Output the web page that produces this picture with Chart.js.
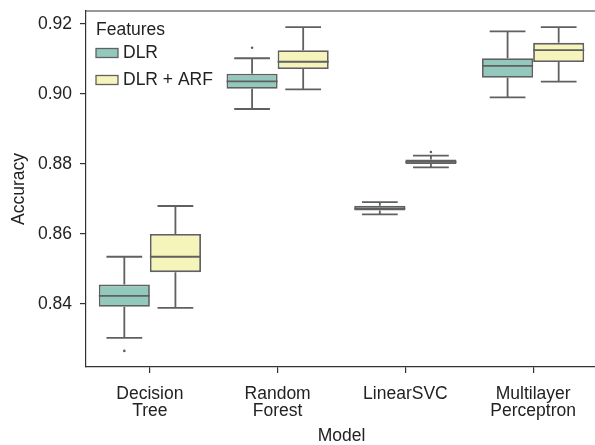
<!DOCTYPE html>
<html lang="en">
<head>
<meta charset="UTF-8">
<title>Accuracy by Model</title>
<script src="https://cdn.jsdelivr.net/npm/chart.js"></script>
<style>
    html, body { margin: 0; padding: 0; background: #fff; overflow: hidden; }
    .chart-container { width: 597px; height: 445px; }
</style>
</head>
<body>
<div class="chart-container">
    <!-- slightly wider than the window so the right spine falls just outside, as in the original -->
    <canvas id="myChart" width="597" height="445"></canvas>
</div>
<script>
    // categories and series
    const models = [['Decision', 'Tree'], ['Random', 'Forest'], 'LinearSVC', ['Multilayer', 'Perceptron']];
    const features = ['DLR', 'DLR + ARF'];
    // [min whisker, q1, median, q3, max whisker] for each model
    const dlrStats = [
        [0.8303, 0.8392, 0.8423, 0.8456, 0.8535],
        [0.8957, 0.9015, 0.9036, 0.9058, 0.9102],
        [0.8656, 0.8667, 0.8673, 0.8681, 0.8691],
        [0.8990, 0.9046, 0.9080, 0.9102, 0.9179]
    ];
    const arfStats = [
        [0.8389, 0.8491, 0.8535, 0.8600, 0.8680],
        [0.9013, 0.9071, 0.9092, 0.9125, 0.9191],
        [0.8790, 0.8800, 0.8806, 0.8813, 0.8824],
        [0.9035, 0.9091, 0.9125, 0.9146, 0.9191]
    ];
    const dlrOutliers = [[0.8266], [0.9132], [], []];
    const arfOutliers = [[], [], [0.8834], []];
    const yTicks = [0.84, 0.86, 0.88, 0.90, 0.92];

    const fillColors = ['#93c9bd', '#f5f4bb'];
    const lineColor = '#606060';
    const axisColor = '#333333';
    const fontFamily = '"Liberation Sans", Arial, sans-serif';
    const fontSize = 17.5;

    Chart.defaults.font.family = fontFamily;
    Chart.defaults.font.size = fontSize;
    Chart.defaults.color = '#222';

    // whiskers, caps, medians and fliers on top of the floating bars
    const boxWhiskers = {
        id: 'boxWhiskers',
        afterDatasetsDraw(chart) {
            const ctx = chart.ctx;
            const y = chart.scales.y;
            ctx.save();
            ctx.strokeStyle = lineColor;
            ctx.fillStyle = lineColor;
            ctx.lineWidth = 1.8;
            chart.data.datasets.forEach((ds, di) => {
                const meta = chart.getDatasetMeta(di);
                meta.data.forEach((bar, i) => {
                    const [lo, q1, med, q3, hi] = ds.stats[i];
                    const x = bar.x;
                    const half = bar.width / 2;
                    const cap = bar.width * 0.35;
                    ctx.beginPath();
                    ctx.moveTo(x, y.getPixelForValue(q3));
                    ctx.lineTo(x, y.getPixelForValue(hi));
                    ctx.moveTo(x, y.getPixelForValue(q1));
                    ctx.lineTo(x, y.getPixelForValue(lo));
                    ctx.moveTo(x - cap, y.getPixelForValue(hi));
                    ctx.lineTo(x + cap, y.getPixelForValue(hi));
                    ctx.moveTo(x - cap, y.getPixelForValue(lo));
                    ctx.lineTo(x + cap, y.getPixelForValue(lo));
                    ctx.moveTo(x - half, y.getPixelForValue(med));
                    ctx.lineTo(x + half, y.getPixelForValue(med));
                    ctx.stroke();
                    ds.outliers[i].forEach(v => {
                        ctx.beginPath();
                        ctx.arc(x, y.getPixelForValue(v), 1.3, 0, Math.PI * 2);
                        ctx.fill();
                    });
                });
            });
            ctx.restore();
        }
    };

    // top and right spines plus the legend box in the upper left
    const frameAndLegend = {
        id: 'frameAndLegend',
        afterDraw(chart) {
            const ctx = chart.ctx;
            const a = chart.chartArea;
            ctx.save();
            ctx.strokeStyle = axisColor;
            ctx.lineWidth = 1.2;
            ctx.beginPath();
            ctx.moveTo(a.left, a.top);
            ctx.lineTo(a.right, a.top);
            ctx.lineTo(a.right, a.bottom);
            ctx.stroke();

            ctx.font = fontSize + 'px ' + fontFamily;
            ctx.fillStyle = '#222';
            ctx.textBaseline = 'middle';
            ctx.textAlign = 'left';
            const lx = a.left + 10;
            ctx.fillText('Features', lx, a.top + 19);
            chart.data.datasets.forEach((ds, i) => {
                const cy = a.top + 42 + i * 27;
                ctx.fillStyle = ds.backgroundColor;
                ctx.fillRect(lx, cy - 4.5, 22, 9);
                ctx.strokeStyle = lineColor;
                ctx.lineWidth = 1.3;
                ctx.strokeRect(lx, cy - 4.5, 22, 9);
                ctx.fillStyle = '#222';
                ctx.fillText(ds.label, lx + 27, cy);
            });
            ctx.restore();
        }
    };

    const ctx = document.getElementById('myChart').getContext('2d');
    new Chart(ctx, {
        type: 'bar',
        data: {
            labels: models,
            datasets: [
                {
                    label: features[0],
                    data: dlrStats.map(s => [s[1], s[3]]),
                    stats: dlrStats,
                    outliers: dlrOutliers,
                    backgroundColor: fillColors[0],
                    borderColor: lineColor,
                    borderWidth: 1.8,
                    borderSkipped: false,
                    categoryPercentage: 0.8,
                    barPercentage: 1.0
                },
                {
                    label: features[1],
                    data: arfStats.map(s => [s[1], s[3]]),
                    stats: arfStats,
                    outliers: arfOutliers,
                    backgroundColor: fillColors[1],
                    borderColor: lineColor,
                    borderWidth: 1.8,
                    borderSkipped: false,
                    categoryPercentage: 0.8,
                    barPercentage: 1.0
                }
            ]
        },
        options: {
            responsive: false,
            animation: false,
            layout: { padding: { top: 11, right: 0, left: 0, bottom: 0 } },
            plugins: {
                legend: { display: false },
                tooltip: { enabled: false }
            },
            scales: {
                x: {
                    offset: true,
                    grid: { offset: false, drawOnChartArea: false, tickLength: 6, color: axisColor, lineWidth: 1.2 },
                    border: { color: axisColor, width: 1.2 },
                    ticks: { padding: 12, maxRotation: 0, font: { lineHeight: 1.0 } },
                    title: { display: true, text: 'Model', font: { lineHeight: 1.0 }, padding: { top: 0, bottom: 0 } },
                    afterFit(scale) {
                        scale.height = 78;
                        scale.paddingLeft = 0;
                        scale.paddingRight = 0;
                    }
                },
                y: {
                    min: 0.822,
                    max: 0.9237,
                    grid: { drawOnChartArea: false, tickLength: 6, color: axisColor, lineWidth: 1.2 },
                    border: { color: axisColor, width: 1.2 },
                    ticks: { padding: 8, callback: v => v.toFixed(2) },
                    afterBuildTicks(scale) { scale.ticks = yTicks.map(v => ({ value: v })); },
                    title: { display: true, text: 'Accuracy', padding: { top: 9, bottom: 0 } },
                    afterFit(scale) {
                        scale.width = 86;
                        scale.paddingTop = 0;
                        scale.paddingBottom = 0;
                    }
                }
            }
        },
        plugins: [boxWhiskers, frameAndLegend]
    });
</script>
</body>
</html>
